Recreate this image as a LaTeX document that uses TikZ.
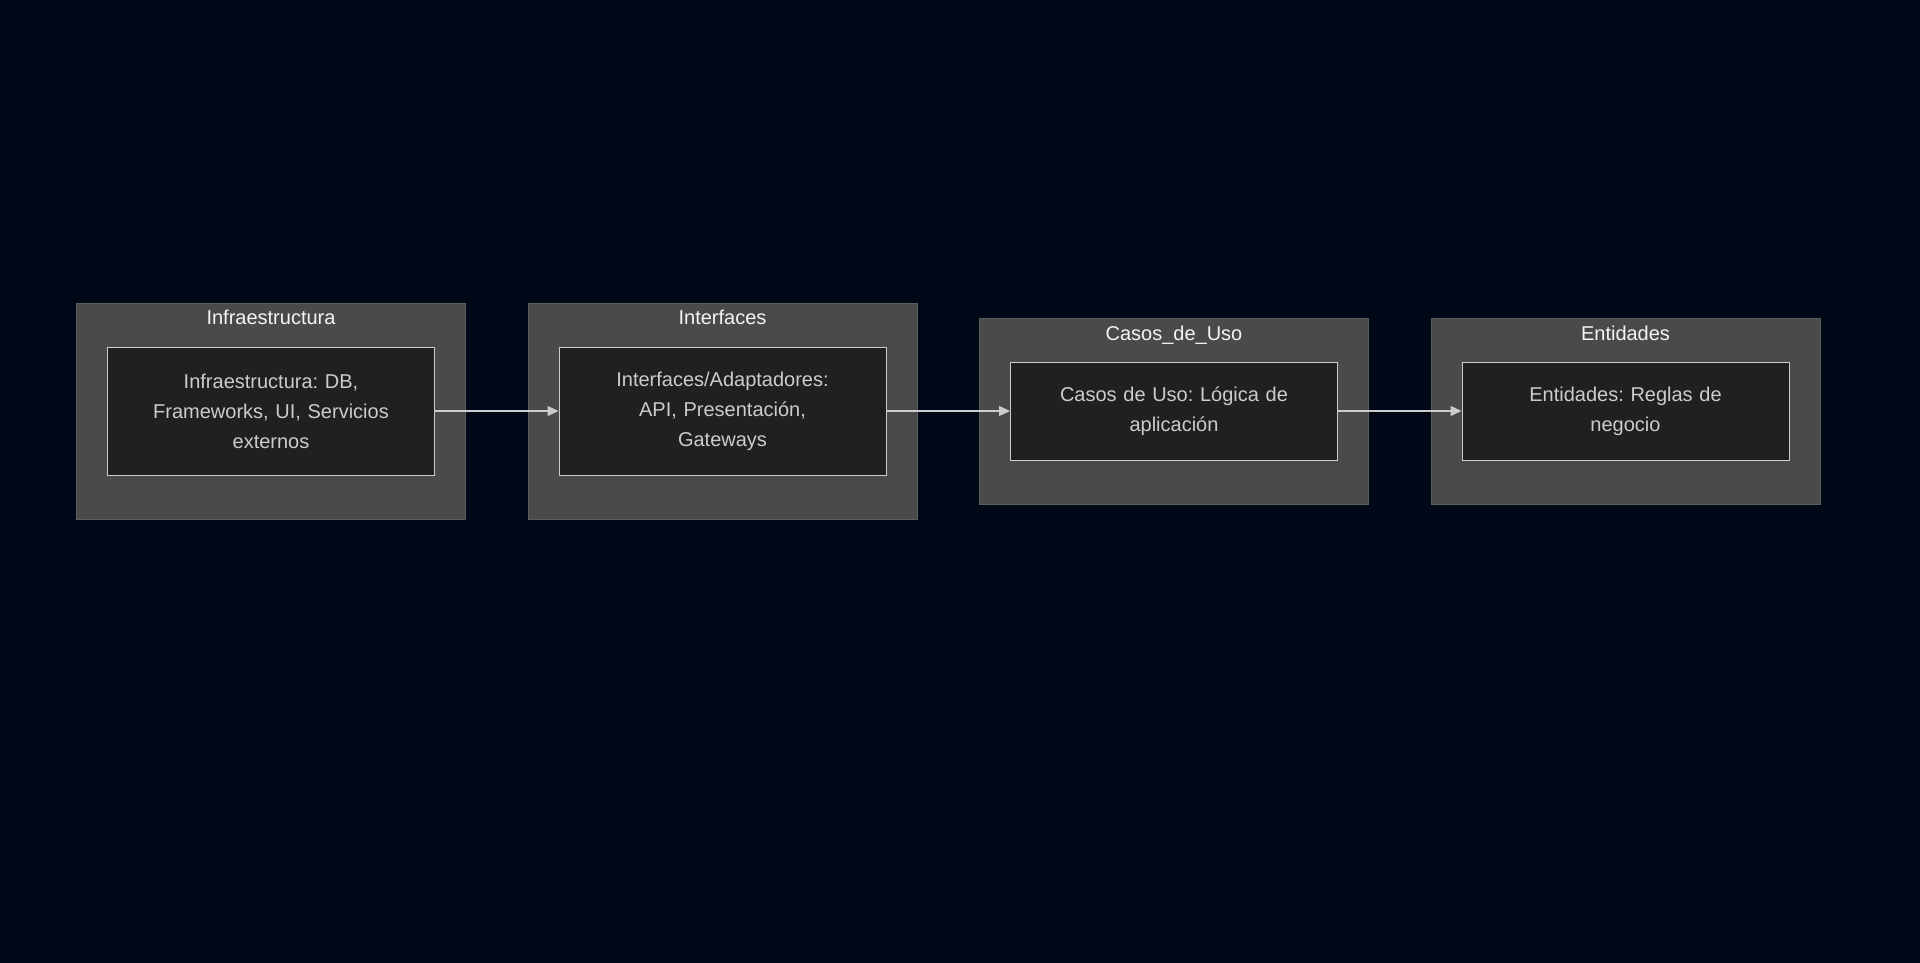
\documentclass[tikz,border=0pt]{standalone}
\usepackage{fontspec}
\setmainfont{Liberation Sans}
\usetikzlibrary{positioning,arrows.meta}

\definecolor{pagebg}{HTML}{000818}
\definecolor{clusterfill}{HTML}{4A4A4A}
\definecolor{clusterline}{HTML}{5E5E5E}
\definecolor{boxfill}{HTML}{1F2020}
\definecolor{boxline}{HTML}{CCCCCC}
\definecolor{boxtext}{HTML}{CCCCCC}
\definecolor{titletext}{HTML}{F4F4F4}

\begin{document}
\frenchspacing
\begin{tikzpicture}[
    x=1pt, y=-1pt,
    node distance=61.5pt,
    layer/.style={draw=clusterline, fill=clusterfill, line width=1pt, minimum width=389pt, inner sep=0pt},
    layertitle/.style={text=titletext, font=\fontsize{20}{24}\selectfont, inner sep=0pt},
    stepbox/.style={draw=boxline, fill=boxfill, line width=1pt, minimum width=327pt, text width=300pt, align=center, text=boxtext, font=\fontsize{20}{30}\selectfont},
    flow/.style={draw=boxline, line width=1.2pt, -{Triangle[length=11pt,width=10pt]}} % arrow between steps
]

% --- Page ---
\fill[pagebg] (0,0) rectangle (1920,963);

% --- Layers (clusters) ---
\node[layer, minimum height=216pt] (infLayer) at (271,411) {};
\node[layer, minimum height=216pt, right=of infLayer] (ifaLayer) {};
\node[layer, minimum height=186pt, right=of ifaLayer] (cduLayer) {};
\node[layer, minimum height=186pt, right=of cduLayer] (entLayer) {};

% --- Layer titles ---
\node[layertitle, below=7pt of infLayer.north] (infTitle) {Infraestructura};
\node[layertitle, below=7pt of ifaLayer.north] (ifaTitle) {Interfaces};
\node[layertitle, below=8pt of cduLayer.north] (cduTitle) {Casos\_de\_Uso};
\node[layertitle, below=8pt of entLayer.north] (entTitle) {Entidades};

% --- Steps inside each layer ---
\node[stepbox, minimum height=128pt] (infBox) at (infLayer) {Infraestructura: DB,\\ Frameworks, UI, Servicios\\ externos};
\node[stepbox, minimum height=128pt] (ifaBox) at (ifaLayer) {Interfaces/Adaptadores:\\ API, Presentación,\\ Gateways};
\node[stepbox, minimum height=98pt] (cduBox) at (cduLayer) {Casos de Uso: Lógica de\\ aplicación};
\node[stepbox, minimum height=98pt] (entBox) at (entLayer) {Entidades: Reglas de\\ negocio};

% --- Dependencies ---
\draw[flow] (infBox) -- (ifaBox);
\draw[flow] (ifaBox) -- (cduBox);
\draw[flow] (cduBox) -- (entBox);

\end{tikzpicture}
\end{document}
